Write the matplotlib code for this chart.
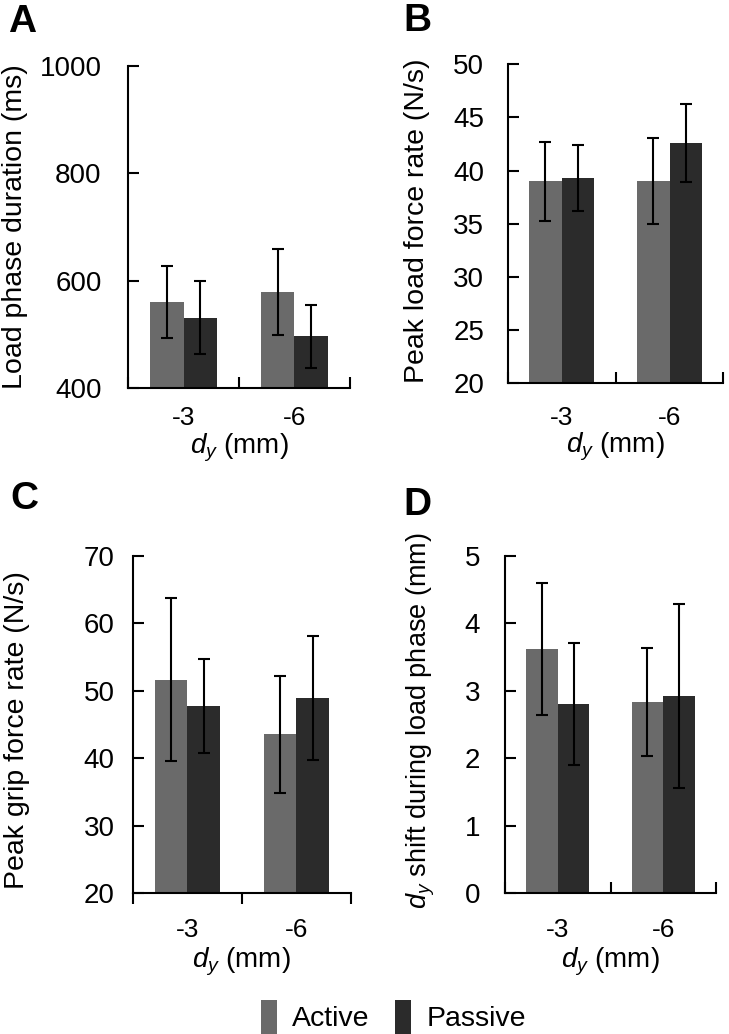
import numpy as np
import matplotlib.pyplot as plt
from matplotlib.patches import Patch

plt.rcParams['font.family'] = ['Liberation Sans', 'DejaVu Sans']
plt.rcParams['mathtext.fontset'] = 'custom'
plt.rcParams['mathtext.rm'] = 'Liberation Sans'
plt.rcParams['mathtext.it'] = 'Liberation Sans:italic'

# Datos
categorias = ['-3', '-6']
series = ['Active', 'Passive']
colores = ['#6a6a6a', '#2b2b2b']

dur_activo = [561, 579]
dur_activo_err = [67, 80]
dur_pasivo = [531, 496]
dur_pasivo_err = [68, 59]

carga_activo = [39.0, 39.0]
carga_activo_err = [3.7, 4.05]
carga_pasivo = [39.3, 42.6]
carga_pasivo_err = [3.1, 3.7]

agarre_activo = [51.6, 43.5]
agarre_activo_err = [12.1, 8.7]
agarre_pasivo = [47.7, 48.9]
agarre_pasivo_err = [6.95, 9.2]

shift_activo = [3.62, 2.83]
shift_activo_err = [0.98, 0.8]
shift_pasivo = [2.80, 2.92]
shift_pasivo_err = [0.9, 1.36]

# letra, caja de ejes, datos, límites, ticks, etiqueta y, ajustes de posición
paneles = [
    dict(letra="A", pos=[0.1756, 0.6248, 0.3045, 0.3114],
         va=dur_activo, ea=dur_activo_err, vp=dur_pasivo, ep=dur_pasivo_err,
         ylim=(400, 1000), yticks=[400, 600, 800, 1000], ylabel="Load phase duration (ms)",
         ylab_xy=(-0.51, 0.5), ylab_fs=20.5, ypad=19, xpad=13, xlab_y=-0.186, xdir='in',
         letra_xy=(8, 22)),
    dict(letra="B", pos=[0.6964, 0.6293, 0.2960, 0.3085],
         va=carga_activo, ea=carga_activo_err, vp=carga_pasivo, ep=carga_pasivo_err,
         ylim=(20, 50), yticks=[20, 25, 30, 35, 40, 45, 50], ylabel="Peak load force rate (N/s)",
         ylab_xy=(-0.42, 0.51), ylab_fs=20.5, ypad=17, xpad=16, xlab_y=-0.20, xdir='in',
         letra_xy=(403, 21)),
    dict(letra="C", pos=[0.1820, 0.1364, 0.2995, 0.3262],
         va=agarre_activo, ea=agarre_activo_err, vp=agarre_pasivo, ep=agarre_pasivo_err,
         ylim=(20, 70), yticks=[20, 30, 40, 50, 60, 70], ylabel="Peak grip force rate (N/s)",
         ylab_xy=(-0.53, 0.484), ylab_fs=20.5, ypad=13, xpad=18, xlab_y=-0.205, xdir='out',
         letra_xy=(10, 499)),
    dict(letra="D", pos=[0.6927, 0.1364, 0.2895, 0.3262],
         va=shift_activo, ea=shift_activo_err, vp=shift_pasivo, ep=shift_pasivo_err,
         ylim=(0, 5), yticks=[0, 1, 2, 3, 4, 5], ylabel="$d_y$ shift during load phase (mm)",
         ylab_xy=(-0.40, 0.51), ylab_fs=19.5, ypad=18, xpad=18, xlab_y=-0.205, xdir='in',
         letra_xy=(403, 505)),
]

W, H = 729, 1034
fig = plt.figure(figsize=(W / 100, H / 100), dpi=100)
x = np.arange(len(categorias))
ancho = 0.3

for p in paneles:
    ax = fig.add_axes(p['pos'])
    err_kw = dict(ecolor='black', elinewidth=1.5, capsize=4, capthick=1.5)
    ax.bar(x - ancho / 2, p['va'], ancho, yerr=p['ea'], color=colores[0], error_kw=err_kw)
    ax.bar(x + ancho / 2, p['vp'], ancho, yerr=p['ep'], color=colores[1], error_kw=err_kw)
    ax.set_ylim(*p['ylim'])
    ax.set_xlim(-0.5, 1.5)
    ax.set_yticks(p['yticks'])
    ax.set_xticks([-0.5, 0.5, 1.5])
    ax.set_xticklabels([])
    ax.set_xticks(x, minor=True)
    ax.set_xticklabels(categorias, minor=True)
    ax.tick_params(axis='x', which='minor', length=0, labelsize=19, pad=p['xpad'])
    ax.tick_params(axis='x', which='major', direction=p['xdir'], length=8, width=1.5)
    ax.tick_params(axis='y', direction='in', length=8, width=1.5, labelsize=20, pad=p['ypad'])
    for lado in ['top', 'right']:
        ax.spines[lado].set_visible(False)
    for lado in ['left', 'bottom']:
        ax.spines[lado].set_linewidth(1.5)
    ax.set_ylabel(p['ylabel'], fontsize=p['ylab_fs'], va='center')
    ax.yaxis.set_label_coords(*p['ylab_xy'])
    ax.set_xlabel("$d_y$ (mm)", fontsize=20, va='center')
    ax.xaxis.set_label_coords(0.5, p['xlab_y'])
    lx, ly = p['letra_xy']
    fig.text(lx / W, 1 - ly / H, p['letra'], fontsize=28, fontweight='bold', va='center', ha='left')

handles = [Patch(facecolor=colores[0]), Patch(facecolor=colores[1])]
fig.legend(handles, series, loc='center', bbox_to_anchor=(0.540, 0.0165), ncol=2, frameon=False,
           fontsize=20.5, handlelength=0.55, handleheight=1.5, columnspacing=0.9, handletextpad=0.55)

fig.savefig('out.png', dpi=100)
